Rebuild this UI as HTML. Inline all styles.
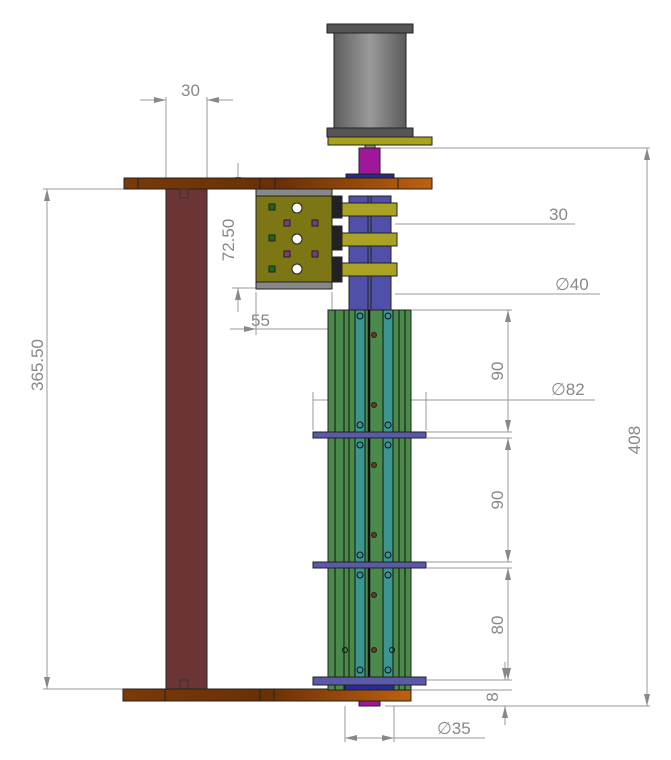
<!DOCTYPE html>
<html><head><meta charset="utf-8"><style>
html,body{margin:0;padding:0;background:#fff;}
svg{display:block;}
text{font-family:"Liberation Sans",sans-serif;fill:#888;font-size:17px;}
</style></head><body>
<svg width="671" height="760" viewBox="0 0 671 760" xmlns="http://www.w3.org/2000/svg">
<defs>
<linearGradient id="mot" x1="0" x2="1"><stop offset="0" stop-color="#5e5e5e"/><stop offset="0.5" stop-color="#9a9a9a"/><stop offset="1" stop-color="#5a5a5a"/></linearGradient>
<linearGradient id="br" x1="0" x2="1"><stop offset="0" stop-color="#7a3a08"/><stop offset="0.5" stop-color="#6a2f05"/><stop offset="1" stop-color="#c0600e"/></linearGradient>
<marker id="a" viewBox="0 0 12 6" refX="12" refY="3" markerWidth="13" markerHeight="6" markerUnits="userSpaceOnUse" orient="auto-start-reverse"><path d="M0,0 L12,3 L0,6z" fill="#888" stroke="none"/></marker>
</defs>
<g stroke="#999" stroke-width="1" fill="none">
<line x1="166" y1="97" x2="166" y2="185"/><line x1="207" y1="97" x2="207" y2="185"/>
<line x1="140" y1="100" x2="166" y2="100" marker-end="url(#a)"/><line x1="233" y1="100" x2="207" y2="100" marker-end="url(#a)"/>
<line x1="43" y1="189" x2="124" y2="189"/><line x1="43" y1="689" x2="160" y2="689"/>
<line x1="47" y1="189" x2="47" y2="689" marker-start="url(#a)" marker-end="url(#a)"/>
<line x1="238" y1="163" x2="238" y2="189" marker-end="url(#a)"/>
<line x1="238" y1="312" x2="238" y2="288" marker-end="url(#a)"/>
<line x1="232" y1="288" x2="256" y2="288"/>
<line x1="256" y1="292" x2="256" y2="335"/><line x1="332" y1="292" x2="332" y2="335"/>
<line x1="230" y1="329" x2="256" y2="329" marker-end="url(#a)"/><line x1="256" y1="329" x2="350" y2="329"/>
<line x1="380" y1="148" x2="650" y2="148"/>
<line x1="395" y1="224" x2="575" y2="224"/>
<line x1="395" y1="294" x2="600" y2="294"/>
<line x1="412" y1="310" x2="512" y2="310"/>
<line x1="313" y1="400" x2="595" y2="400"/>
<line x1="313" y1="392" x2="313" y2="430"/><line x1="426" y1="392" x2="426" y2="430"/>
<line x1="427" y1="432" x2="512" y2="432"/><line x1="427" y1="438" x2="512" y2="438"/>
<line x1="427" y1="562" x2="512" y2="562"/><line x1="427" y1="568" x2="512" y2="568"/>
<line x1="427" y1="680" x2="512" y2="680"/><line x1="412" y1="690" x2="512" y2="690"/>
<line x1="385" y1="706" x2="650" y2="706"/>
<line x1="508" y1="310" x2="508" y2="432" marker-start="url(#a)" marker-end="url(#a)"/>
<line x1="508" y1="438" x2="508" y2="562" marker-start="url(#a)" marker-end="url(#a)"/>
<line x1="508" y1="568" x2="508" y2="680" marker-start="url(#a)" marker-end="url(#a)"/>
<line x1="505" y1="662" x2="505" y2="680" marker-end="url(#a)"/>
<line x1="505" y1="725" x2="505" y2="706" marker-end="url(#a)"/>
<line x1="647" y1="148" x2="647" y2="706" marker-start="url(#a)" marker-end="url(#a)"/>
<line x1="345" y1="706" x2="345" y2="742"/><line x1="394" y1="706" x2="394" y2="742"/>
<line x1="345" y1="738" x2="394" y2="738" marker-start="url(#a)" marker-end="url(#a)"/>
<line x1="394" y1="738" x2="485" y2="738"/>
</g>
<text x="181" y="96">30</text>
<text transform="translate(43,365) rotate(-90)" text-anchor="middle">365.50</text>
<text transform="translate(234,240) rotate(-90)" text-anchor="middle">72.50</text>
<text x="251" y="326">55</text>
<text x="549" y="220">30</text>
<text x="555" y="290">∅40</text>
<text x="551" y="395">∅82</text>
<text transform="translate(503,371) rotate(-90)" text-anchor="middle">90</text>
<text transform="translate(503,500) rotate(-90)" text-anchor="middle">90</text>
<text transform="translate(503,625) rotate(-90)" text-anchor="middle">80</text>
<text transform="translate(498,697) rotate(-90)" text-anchor="middle" font-size="14">8</text>
<text transform="translate(640,440) rotate(-90)" text-anchor="middle">408</text>
<text x="437" y="734">∅35</text>

<g stroke="#222" stroke-width="1">
<rect x="327" y="24" width="86" height="9" fill="#555"/>
<rect x="334" y="33" width="72" height="95" fill="url(#mot)"/>
<rect x="327" y="128" width="86" height="9" fill="#555"/>
<rect x="328" y="137" width="104" height="8" fill="#a8a41a"/>
<rect x="365" y="145" width="10" height="4" fill="#888"/>
<rect x="359" y="148" width="21" height="27" fill="#a0189a"/>
<rect x="346" y="174" width="48" height="4" fill="#2a2a8a"/>
<rect x="124" y="178" width="308" height="11" fill="url(#br)"/>
<line x1="138" y1="178" x2="138" y2="189"/><line x1="260" y1="178" x2="260" y2="189"/><line x1="275" y1="178" x2="275" y2="189"/><line x1="398" y1="178" x2="398" y2="189"/>
<rect x="166" y="189" width="41" height="500" fill="#6b3535"/>
<rect x="180" y="189" width="8" height="9" fill="none" stroke="#333"/>
<rect x="180" y="680" width="8" height="9" fill="none" stroke="#333"/>
<rect x="123" y="689" width="288" height="12" fill="url(#br)"/>
<line x1="165" y1="689" x2="165" y2="701"/><line x1="260" y1="689" x2="260" y2="701"/><line x1="274" y1="689" x2="274" y2="701"/>
<rect x="359" y="701" width="21" height="5" fill="#a0189a"/>
<rect x="256" y="189" width="76" height="7" fill="#888"/>
<rect x="256" y="196" width="76" height="86" fill="#7c7614"/>
<rect x="256" y="282" width="76" height="7" fill="#888"/>
<rect x="332" y="196" width="10" height="22" fill="#222"/>
<rect x="332" y="226" width="10" height="24" fill="#222"/>
<rect x="332" y="257" width="10" height="25" fill="#222"/>
<g fill="#1a6a1a"><rect x="269" y="204" width="6" height="6"/><rect x="269" y="235" width="6" height="6"/><rect x="269" y="266" width="6" height="6"/></g>
<g fill="#7a3a8a"><rect x="284" y="220" width="6" height="6"/><rect x="312" y="220" width="6" height="6"/><rect x="284" y="251" width="6" height="6"/><rect x="312" y="251" width="6" height="6"/></g>
<g fill="#fff"><circle cx="297" cy="208" r="5"/><circle cx="297" cy="239" r="5"/><circle cx="297" cy="269" r="5"/></g>
<rect x="349" y="196" width="42" height="114" fill="#5050a8"/>
<line x1="368" y1="196" x2="368" y2="310"/><line x1="371" y1="196" x2="371" y2="310"/>
<rect x="342" y="203" width="55" height="13" fill="#aaa224"/>
<rect x="342" y="233" width="55" height="13" fill="#aaa224"/>
<rect x="342" y="263" width="55" height="13" fill="#aaa224"/>
<rect x="328" y="310" width="83" height="380" fill="#4a8a4a"/>
<rect x="355" y="310" width="10" height="380" fill="#3c9690"/>
<rect x="383" y="310" width="10" height="380" fill="#3c9690"/>
<g stroke="#111">
<line x1="335" y1="310" x2="335" y2="690"/><line x1="344" y1="310" x2="344" y2="690"/><line x1="349" y1="310" x2="349" y2="690"/>
<line x1="355" y1="310" x2="355" y2="690"/><line x1="365" y1="310" x2="365" y2="690"/>
<line x1="369" y1="310" x2="369" y2="690" stroke-width="2.5"/>
<line x1="383" y1="310" x2="383" y2="690"/><line x1="393" y1="310" x2="393" y2="690"/>
<line x1="399" y1="310" x2="399" y2="690"/><line x1="405" y1="310" x2="405" y2="690"/>
</g>
<g fill="none" stroke="#111">
<circle cx="360" cy="316" r="3"/><circle cx="388" cy="316" r="3"/><circle cx="360" cy="425" r="3"/><circle cx="388" cy="425" r="3"/>
<circle cx="360" cy="445" r="3"/><circle cx="388" cy="445" r="3"/><circle cx="360" cy="555" r="3"/><circle cx="388" cy="555" r="3"/>
<circle cx="360" cy="575" r="3"/><circle cx="388" cy="575" r="3"/><circle cx="360" cy="670" r="3"/><circle cx="388" cy="670" r="3"/>
<circle cx="345" cy="650" r="2.5"/><circle cx="392" cy="650" r="2.5"/>
</g>
<g fill="#6a3a1a"><circle cx="374" cy="335" r="2.5"/><circle cx="374" cy="405" r="2.5"/><circle cx="374" cy="465" r="2.5"/><circle cx="374" cy="535" r="2.5"/><circle cx="374" cy="595" r="2.5"/><circle cx="374" cy="650" r="2.5"/></g>
<rect x="313" y="432" width="113" height="6" fill="#5a5aa8"/>
<rect x="313" y="562" width="113" height="6" fill="#5a5aa8"/>
<rect x="313" y="677" width="113" height="8" fill="#5a5aa8"/>
<rect x="345" y="685" width="49" height="5" fill="#2a2a9a"/>
</g>
</svg>
</body></html>
